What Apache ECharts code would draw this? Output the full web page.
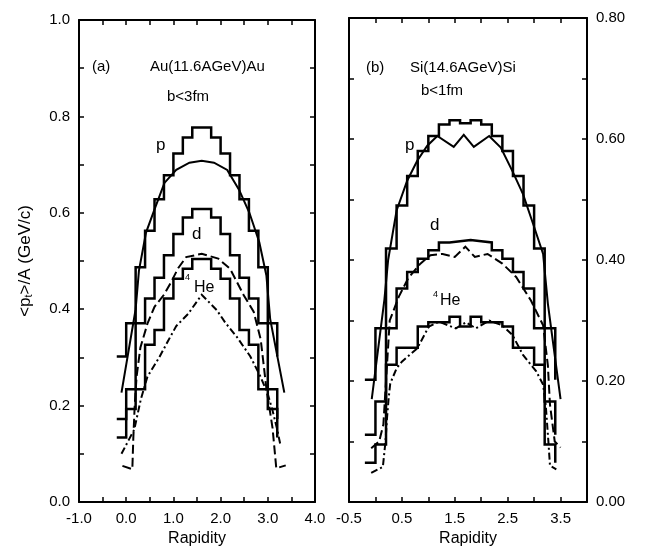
<!DOCTYPE html>
<html>
<head>
<meta charset="utf-8">
<title>pt vs rapidity</title>
<script src="https://cdn.jsdelivr.net/npm/echarts@6/dist/echarts.min.js"></script>
<style>
  html, body { margin: 0; padding: 0; background: #fff; }
  #chart { width: 646px; height: 552px; }
</style>
</head>
<body>
<div id="chart"></div>
<script>
// ---- panel (a): Au(11.6AGeV)Au, b<3fm ----
const binEdgesA = [-0.2, 0.0, 0.2, 0.4, 0.6, 0.8, 1.0, 1.2, 1.4, 1.6, 1.8, 2.0, 2.2, 2.4, 2.6, 2.8, 3.0, 3.2];
const pHistA  = [0.302, 0.371, 0.487, 0.563, 0.628, 0.678, 0.723, 0.756, 0.777, 0.777, 0.756, 0.723, 0.678, 0.628, 0.563, 0.487, 0.371];
const dHistA  = [0.172, 0.234, 0.371, 0.422, 0.465, 0.512, 0.556, 0.590, 0.608, 0.608, 0.590, 0.556, 0.512, 0.465, 0.422, 0.371, 0.234];
const heHistA = [0.134, 0.193, 0.234, 0.326, 0.357, 0.422, 0.463, 0.484, 0.504, 0.504, 0.484, 0.463, 0.422, 0.357, 0.326, 0.234, 0.193];
const histEndA = [0.302, 0.172, 0.134]; // last drop of p, d, 4He

const pCurveAx = [-0.1, 0.2, 0.27, 0.42, 0.6, 0.81, 1.06, 1.34, 1.6, 1.86, 2.14, 2.39, 2.61, 2.82, 2.97, 3.05, 3.35];
const pCurveAy = [0.227, 0.40, 0.48, 0.559, 0.607, 0.662, 0.689, 0.704, 0.708, 0.704, 0.689, 0.648, 0.60, 0.539, 0.47, 0.38, 0.227];
const dCurveAx = [-0.08, 0.13, 0.15, 0.18, 0.22, 0.3, 0.45, 0.6, 0.8, 0.95, 1.1, 1.27, 1.6, 1.95, 2.2, 2.49, 2.7, 2.85, 2.97, 3.1, 3.18, 3.38];
const dCurveAy = [0.075, 0.068, 0.13, 0.2, 0.26, 0.32, 0.37, 0.405, 0.43, 0.456, 0.485, 0.508, 0.515, 0.505, 0.484, 0.429, 0.395, 0.337, 0.236, 0.154, 0.07, 0.076];
const heCurveAx = [-0.1, 0.06, 0.17, 0.31, 0.45, 0.7, 0.88, 1.06, 1.31, 1.6, 1.92, 2.1, 2.34, 2.63, 2.84, 2.99, 3.1, 3.2, 3.27];
const heCurveAy = [0.10, 0.13, 0.15, 0.213, 0.26, 0.30, 0.333, 0.365, 0.39, 0.43, 0.398, 0.372, 0.343, 0.302, 0.261, 0.227, 0.19, 0.15, 0.117];

// ---- panel (b): Si(14.6AGeV)Si, b<1fm ----
const binEdgesB = [-0.2, 0.0, 0.2, 0.4, 0.6, 0.8, 1.0, 1.2, 1.4, 1.6, 1.8, 2.0, 2.2, 2.4, 2.6, 2.8, 3.0, 3.2, 3.4];
const pHistB  = [0.202, 0.287, 0.419, 0.490, 0.539, 0.580, 0.605, 0.624, 0.631, 0.626, 0.631, 0.624, 0.605, 0.580, 0.539, 0.490, 0.419, 0.287];
const dHistB  = [0.111, 0.166, 0.287, 0.353, 0.380, 0.402, 0.416, 0.429, 0.431, 0.433, 0.431, 0.429, 0.416, 0.402, 0.380, 0.353, 0.287, 0.166];
const heHistB = [0.065, 0.095, 0.227, 0.255, 0.255, 0.290, 0.297, 0.297, 0.306, 0.290, 0.306, 0.297, 0.297, 0.290, 0.255, 0.255, 0.227, 0.095];
const histEndB = [0.202, 0.111, 0.065];

const pCurveBx = [-0.07, 0.17, 0.24, 0.4, 0.6, 0.79, 0.98, 1.17, 1.48, 1.67, 1.86, 2.15, 2.37, 2.59, 2.79, 2.98, 3.17, 3.26, 3.5];
const pCurveBy = [0.17, 0.335, 0.40, 0.482, 0.531, 0.564, 0.589, 0.605, 0.587, 0.607, 0.587, 0.605, 0.586, 0.547, 0.509, 0.46, 0.41, 0.328, 0.17];
const dCurveBx = [-0.08, 0.07, 0.15, 0.2, 0.27, 0.44, 0.62, 0.85, 1.04, 1.27, 1.5, 1.7, 1.88, 2.12, 2.4, 2.66, 2.94, 3.17, 3.26, 3.3, 3.39, 3.5];
const dCurveBy = [0.089, 0.10, 0.128, 0.2, 0.30, 0.339, 0.37, 0.394, 0.408, 0.41, 0.405, 0.422, 0.405, 0.41, 0.394, 0.372, 0.333, 0.292, 0.226, 0.161, 0.10, 0.09];
const heCurveBx = [-0.08, 0.14, 0.19, 0.22, 0.25, 0.28, 0.4, 0.5, 0.79, 1.01, 1.2, 1.52, 1.71, 1.9, 2.15, 2.4, 2.59, 2.79, 3.04, 3.17, 3.22, 3.27, 3.3, 3.42];
const heCurveBy = [0.048, 0.058, 0.10, 0.14, 0.172, 0.196, 0.221, 0.232, 0.254, 0.29, 0.298, 0.287, 0.297, 0.287, 0.30, 0.292, 0.276, 0.243, 0.216, 0.194, 0.16, 0.10, 0.06, 0.054];

const FONT = "'Liberation Sans', Arial, Helvetica, sans-serif";

// histogram outline: horizontal at each bin value, vertical at each edge
function stepPoints(edges, vals, endVal) {
  const pts = [];
  for (let i = 0; i < vals.length; i++) {
    pts.push([edges[i], vals[i]]);
    pts.push([edges[i + 1], vals[i]]);
  }
  pts.push([edges[vals.length], endVal]);
  return pts;
}

function zip(xs, ys) {
  return xs.map((x, i) => [x, ys[i]]);
}

function lineSeries(data, xIdx, yIdx, width, type) {
  return {
    type: 'line',
    data: data,
    xAxisIndex: xIdx,
    yAxisIndex: yIdx,
    symbol: 'none',
    silent: true,
    lineStyle: { color: '#000', width: width, type: type || 'solid', cap: 'butt', join: 'miter' },
  };
}

const LONG_DASH = [9, 4];
const DASH_DOT = [7, 3, 2, 3];

const axisLine = { show: true, onZero: false, lineStyle: { color: '#000', width: 2 } };
const axisTick = { show: true, inside: true, length: 5, lineStyle: { color: '#000', width: 1.5 } };
const labelStyle = { color: '#000', fontFamily: FONT, fontSize: 15 };

function xAxisFor(gridIndex, min, max, pos, formatter) {
  return {
    type: 'value', gridIndex: gridIndex, position: pos,
    min: min, max: max, interval: 0.5,
    axisLine: axisLine, axisTick: axisTick, splitLine: { show: false },
    axisLabel: formatter ? Object.assign({ formatter: formatter, margin: 9, showMaxLabel: true, showMinLabel: true }, labelStyle) : { show: false },
    name: formatter ? 'Rapidity' : '',
    nameLocation: 'middle', nameGap: 29,
    nameTextStyle: { color: '#000', fontFamily: FONT, fontSize: 16 },
  };
}

function yAxisFor(gridIndex, max, pos, formatter) {
  return {
    type: 'value', gridIndex: gridIndex, position: pos,
    min: 0, max: max, interval: 0.1,
    axisLine: axisLine, axisTick: axisTick, splitLine: { show: false },
    axisLabel: formatter ? Object.assign({ formatter: formatter, margin: 9 }, labelStyle) : { show: false },
  };
}

const chart = echarts.init(document.getElementById('chart'), null, { renderer: 'canvas' });

const yLeftA = yAxisFor(0, 1.0, 'left', v => (Math.round(v * 10) % 2 === 0 ? v.toFixed(1) : ''));
yLeftA.name = '<p{sub|t}>/A (GeV/c)';
yLeftA.nameLocation = 'middle';
yLeftA.nameRotate = 90;
yLeftA.nameGap = 45;
yLeftA.nameTextStyle = {
  color: '#000', fontFamily: FONT, fontSize: 17,
  rich: { sub: { fontFamily: FONT, fontSize: 11, color: '#000', verticalAlign: 'bottom' } },
};

const option = {
  backgroundColor: '#fff',
  animation: false,
  grid: [
    { left: 79, top: 20, width: 236, height: 487 },
    { left: 349, top: 18, width: 238, height: 487 },
  ],
  xAxis: [
    xAxisFor(0, -1, 4, 'bottom', v => (Number.isInteger(v) ? v.toFixed(1) : '')),
    xAxisFor(0, -1, 4, 'top', null),
    xAxisFor(1, -0.5, 4, 'bottom', v => (Math.abs((v + 0.5) % 1) < 1e-6 && v < 3.9 ? v.toFixed(1) : '')),
    xAxisFor(1, -0.5, 4, 'top', null),
  ],
  yAxis: [
    yLeftA,
    yAxisFor(0, 1.0, 'right', null),
    yAxisFor(1, 0.8, 'left', null),
    yAxisFor(1, 0.8, 'right', v => (Math.round(v * 10) % 2 === 0 ? v.toFixed(2) : '')),
  ],
  graphic: [
    { type: 'text', left: 92, top: 59, style: { text: '(a)', font: '15px ' + FONT, fill: '#000' } },
    { type: 'text', left: 150, top: 59, style: { text: 'Au(11.6AGeV)Au', font: '15px ' + FONT, fill: '#000' } },
    { type: 'text', left: 167, top: 89, style: { text: 'b<3fm', font: '15px ' + FONT, fill: '#000' } },
    { type: 'text', left: 156, top: 137, style: { text: 'p', font: '17px ' + FONT, fill: '#000' } },
    { type: 'text', left: 192, top: 226, style: { text: 'd', font: '17px ' + FONT, fill: '#000' } },
    { type: 'text', left: 185, top: 273, style: { text: '4', font: '9px ' + FONT, fill: '#000' } },
    { type: 'text', left: 194, top: 280, style: { text: 'He', font: '16px ' + FONT, fill: '#000' } },

    { type: 'text', left: 366, top: 60, style: { text: '(b)', font: '15px ' + FONT, fill: '#000' } },
    { type: 'text', left: 410, top: 60, style: { text: 'Si(14.6AGeV)Si', font: '15px ' + FONT, fill: '#000' } },
    { type: 'text', left: 421, top: 83, style: { text: 'b<1fm', font: '15px ' + FONT, fill: '#000' } },
    { type: 'text', left: 405, top: 137, style: { text: 'p', font: '17px ' + FONT, fill: '#000' } },
    { type: 'text', left: 430, top: 217, style: { text: 'd', font: '17px ' + FONT, fill: '#000' } },
    { type: 'text', left: 433, top: 290, style: { text: '4', font: '9px ' + FONT, fill: '#000' } },
    { type: 'text', left: 440, top: 293, style: { text: 'He', font: '16px ' + FONT, fill: '#000' } },
  ],
  series: [
    // (a)
    lineSeries(stepPoints(binEdgesA, pHistA, histEndA[0]), 0, 0, 2.5),
    lineSeries(stepPoints(binEdgesA, dHistA, histEndA[1]), 0, 0, 2.5),
    lineSeries(stepPoints(binEdgesA, heHistA, histEndA[2]), 0, 0, 2.5),
    lineSeries(zip(pCurveAx, pCurveAy), 0, 0, 2),
    lineSeries(zip(dCurveAx, dCurveAy), 0, 0, 2, LONG_DASH),
    lineSeries(zip(heCurveAx, heCurveAy), 0, 0, 2, DASH_DOT),
    // (b)
    lineSeries(stepPoints(binEdgesB, pHistB, histEndB[0]), 2, 3, 2.5),
    lineSeries(stepPoints(binEdgesB, dHistB, histEndB[1]), 2, 3, 2.5),
    lineSeries(stepPoints(binEdgesB, heHistB, histEndB[2]), 2, 3, 2.5),
    lineSeries(zip(pCurveBx, pCurveBy), 2, 3, 2),
    lineSeries(zip(dCurveBx, dCurveBy), 2, 3, 2, LONG_DASH),
    lineSeries(zip(heCurveBx, heCurveBy), 2, 3, 2, DASH_DOT),
  ],
};

chart.setOption(option);
</script>
</body>
</html>
